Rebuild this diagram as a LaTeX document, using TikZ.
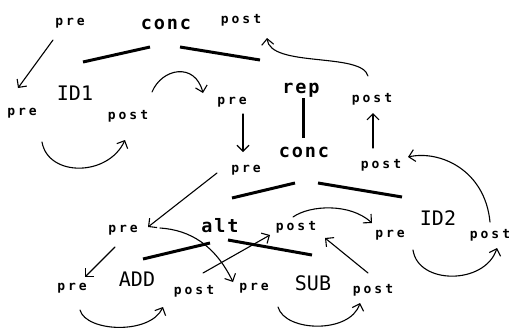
\documentclass[tikz,border=0pt]{standalone}
\usepackage{fontspec}
\usetikzlibrary{arrows.meta}
\newfontfamily\labfont[LetterSpace=23]{DejaVu Sans Mono Bold}
\newfontfamily\opfont[LetterSpace=10]{DejaVu Sans Mono Bold}
\newfontfamily\idfont{DejaVu Sans Mono}
\begin{document}
\begin{tikzpicture}[x=1pt,y=-1pt,
  lab/.style={anchor=base,inner sep=0pt,font=\labfont\fontsize{13}{15}\selectfont},
  opl/.style={anchor=base,inner sep=0pt,font=\opfont\fontsize{18.5}{22}\selectfont},
  idl/.style={anchor=base,inner sep=0pt,font=\idfont\fontsize{20}{24}\selectfont},
  thin/.style={line width=1.1pt,line cap=round},
  arr/.style={thin,-{Straight Barb[length=6pt,width=12pt,line width=1.1pt]}},
  tree/.style={line width=3pt}]
\useasboundingbox (0,0) rectangle (509,330);
% labels
\node[lab] (pre1) at (70,25) {pre};
\node[opl] (concT) at (166,29) {conc};
\node[lab] (postT) at (241,23) {post};
\node[idl] (ID1) at (75,100) {ID1};
\node[lab] (preL) at (22,115) {pre};
\node[lab] (postID1) at (128,119) {post};
\node[lab] (preA) at (232,104) {pre};
\node[opl] (rep) at (301,93) {rep};
\node[lab] (postR) at (372,102) {post};
\node[lab] (preB) at (246,172) {pre};
\node[opl] (conc2) at (304,157) {conc};
\node[lab] (postR2) at (381,168) {post};
\node[lab] (preAlt) at (123,232) {pre};
\node[opl] (alt) at (220,232) {alt};
\node[lab] (postAlt) at (296,230) {post};
\node[lab] (preID2) at (390,237) {pre};
\node[idl] (ID2) at (438,225) {ID2};
\node[lab] (postID2) at (490,238) {post};
\node[lab] (preADD) at (72,290) {pre};
\node[idl] (ADD) at (137,286) {ADD};
\node[lab] (postADD) at (194,294) {post};
\node[lab] (preSUB) at (254,290) {pre};
\node[idl] (SUB) at (313,290) {SUB};
\node[lab] (postSUB) at (373,293) {post};
% endpoints
\coordinate (t1a) at (83,62); \coordinate (t1b) at (150,47);
\coordinate (t2a) at (180,47); \coordinate (t2b) at (260,60);
\coordinate (t3a) at (303,98); \coordinate (t3b) at (303,138);
\coordinate (t4a) at (232,198); \coordinate (t4b) at (295,183);
\coordinate (t5a) at (318,183); \coordinate (t5b) at (402,197);
\coordinate (t6a) at (143,259); \coordinate (t6b) at (210,243);
\coordinate (t7a) at (228,240); \coordinate (t7b) at (312,255);
% tree edges
\draw[tree] (t1a) -- (t1b);
\draw[tree] (t2a) -- (t2b);
\draw[tree] (t3a) -- (t3b);
\draw[tree] (t4a) -- (t4b);
\draw[tree] (t5a) -- (t5b);
\draw[tree] (t6a) -- (t6b);
\draw[tree] (t7a) -- (t7b);
% arrows
\coordinate (a1) at (53,40); \coordinate (a1e) at (18,88);
\draw[arr] (a1) -- (a1e);
\coordinate (a2) at (42,142); \coordinate (a2e) at (125,140);
\draw[arr] (a2) .. controls (48,177) and (108,177) .. (a2e);
\coordinate (a3) at (152,92); \coordinate (a3e) at (203,93);
\draw[arr] (a3) .. controls (162,68) and (195,62) .. (a3e);
\coordinate (a4) at (243,114); \coordinate (a4e) at (243,152);
\draw[arr] (a4) -- (a4e);
\coordinate (a5) at (373,148); \coordinate (a5e) at (373,113);
\draw[arr] (a5) -- (a5e);
\coordinate (a6) at (368,76); \coordinate (a6e) at (267,38);
\draw[arr] (a6) .. controls (362,52) and (270,68) .. (a6e);
\coordinate (a7) at (490,222); \coordinate (a7e) at (408,157);
\draw[arr] (a7) .. controls (485,170) and (440,150) .. (a7e);
\coordinate (a8) at (217,173); \coordinate (a8e) at (148,227);
\draw[arr] (a8) -- (a8e);
\coordinate (a9) at (413,250); \coordinate (a9e) at (497,248);
\draw[arr] (a9) .. controls (418,285) and (485,285) .. (a9e);
\coordinate (a10) at (293,217); \coordinate (a10e) at (372,223);
\draw[arr] (a10) .. controls (310,205) and (350,203) .. (a10e);
\coordinate (a11) at (160,228); \coordinate (a11e) at (233,282);
\draw[arr] (a11) .. controls (190,230) and (215,245) .. (a11e);
\coordinate (a12) at (203,273); \coordinate (a12e) at (270,235);
\draw[arr] (a12) -- (a12e);
\coordinate (a13) at (115,247); \coordinate (a13e) at (85,277);
\draw[arr] (a13) -- (a13e);
\coordinate (a14) at (80,310); \coordinate (a14e) at (163,307);
\draw[arr] (a14) .. controls (86,332) and (150,335) .. (a14e);
\coordinate (a15) at (278,307); \coordinate (a15e) at (360,303);
\draw[arr] (a15) .. controls (285,332) and (350,334) .. (a15e);
\coordinate (a16) at (368,273); \coordinate (a16e) at (325,238);
\draw[arr] (a16) -- (a16e);
\end{tikzpicture}
\end{document}
